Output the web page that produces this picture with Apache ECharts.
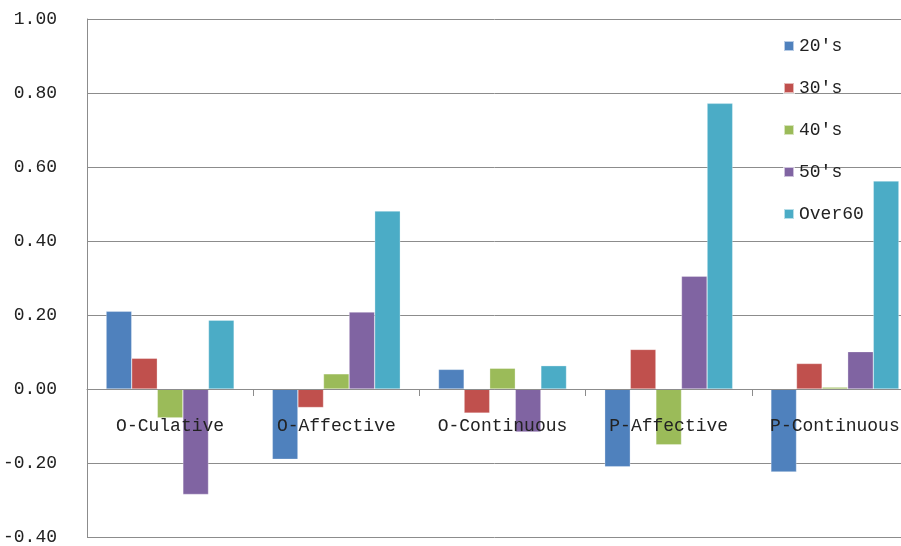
<!DOCTYPE html>
<html>
<head>
<meta charset="utf-8">
<script src="https://cdn.jsdelivr.net/npm/echarts@6/dist/echarts.min.js"></script>
<style>
  html, body { margin: 0; padding: 0; background: #fff; }
  #chart { width: 901px; height: 546px; }
</style>
</head>
<body>
<div id="chart"></div>
<script>
const categories = ["O-Culative", "O-Affective", "O-Continuous", "P-Affective", "P-Continuous"];
const s20 = [0.21, -0.19, 0.053, -0.21, -0.224];
const s30 = [0.083, -0.05, -0.065, 0.107, 0.069];
const s40 = [-0.078, 0.041, 0.056, -0.151, 0.005];
const s50 = [-0.285, 0.208, -0.116, 0.305, 0.101];
const over60 = [0.186, 0.481, 0.063, 0.772, 0.562];
const seriesNames = ["20's", "30's", "40's", "50's", "Over60"];
const colors = ["#4F81BD", "#C0504D", "#9BBB59", "#8064A2", "#4BACC6"];

const font = "Liberation Mono";
const chart = echarts.init(document.getElementById("chart"));

const allData = [s20, s30, s40, s50, over60];

// grid: top 19, height 518 for the -0.4..1.0 range -> zero sits 148px above the bottom
const yMin = -0.4, yMax = 1.0;
const gridTop = 19, gridBottom = 9, gridH = 546 - gridTop - gridBottom;
const zeroOffset = Math.round(gridH * (0 - yMin) / (yMax - yMin));

chart.setOption({
  animation: false,
  color: colors,
  grid: { left: 87, right: -17, top: gridTop, bottom: gridBottom, outerBoundsMode: "none" },
  legend: {
    orient: "vertical",
    left: 778,
    top: 32,
    icon: "rect",
    itemWidth: 10,
    itemHeight: 10,
    itemGap: 24,
    textStyle: { fontFamily: font, fontSize: 18, color: "#222" },
    data: seriesNames
  },
  xAxis: {
    type: "category",
    data: categories,
    z: 10,
    offset: -zeroOffset,
    axisLine: { onZero: false, lineStyle: { color: "#8c8c8c", width: 1 } },
    axisTick: { show: true, length: 7, lineStyle: { color: "#8c8c8c" } },
    axisLabel: { interval: 0, margin: 28, fontFamily: font, fontSize: 18, color: "#222" },
    splitLine: { show: false }
  },
  yAxis: {
    type: "value",
    min: yMin,
    max: yMax,
    interval: 0.2,
    axisLine: { show: true, lineStyle: { color: "#8c8c8c" } },
    axisTick: { show: false },
    axisLabel: {
      margin: 30,
      fontFamily: font,
      fontSize: 18,
      color: "#222",
      formatter: v => v.toFixed(2)
    },
    splitLine: { lineStyle: { color: "#8c8c8c", width: 1 } }
  },
  series: allData.map((d, i) => ({
    name: seriesNames[i],
    type: "bar",
    data: d,
    barGap: "0%",
    barCategoryGap: "23%",
    itemStyle: { borderColor: "rgba(255,255,255,0.6)", borderWidth: 0.5 }
  }))
});
</script>
</body>
</html>
